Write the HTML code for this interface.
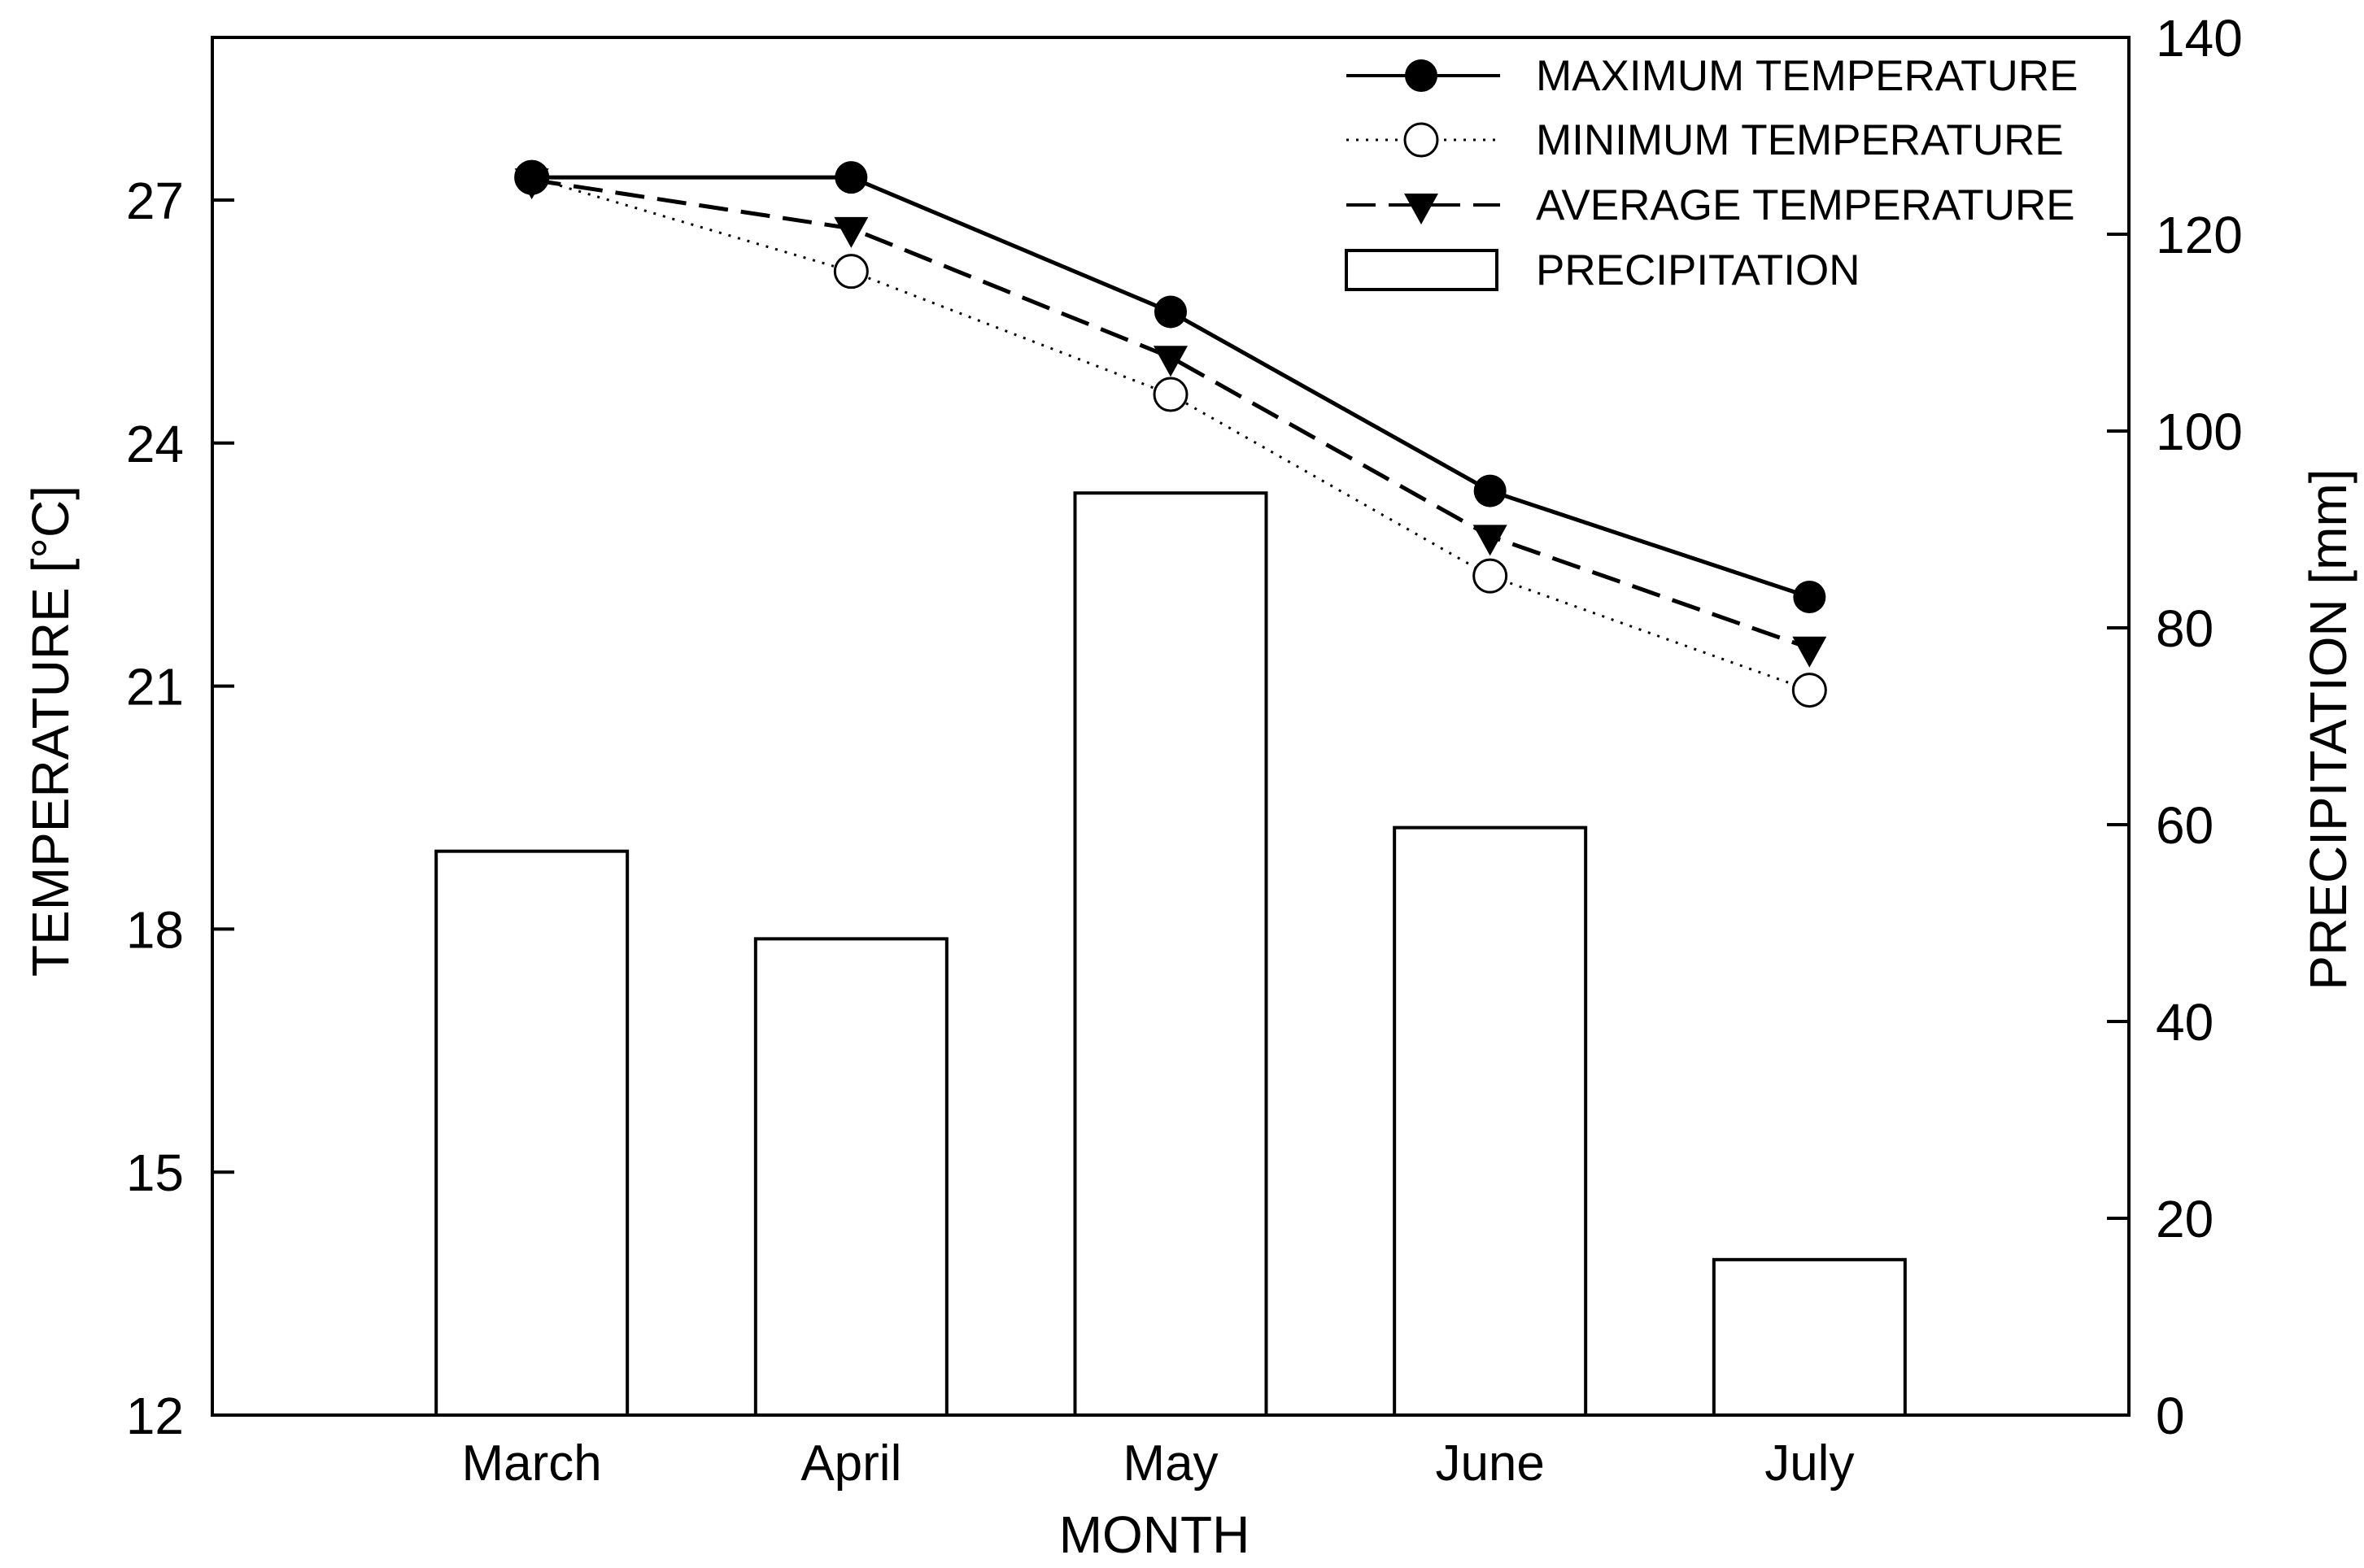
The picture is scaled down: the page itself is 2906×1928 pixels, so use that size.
<!DOCTYPE html>
<html><head><meta charset="utf-8"><style>
html,body{margin:0;padding:0;background:#fff}
svg{display:block;font-family:"Liberation Sans",Arial,sans-serif}
</style></head><body>
<svg id="chart" width="2906" height="1928" viewBox="0 0 2906 1928" xmlns="http://www.w3.org/2000/svg">
<g id="bars"></g>
<g id="lines"></g>
<rect x="261" y="46" width="2356" height="1694" fill="none" stroke="#000" stroke-width="4"/>
<g id="axes"></g>
<text x="62" y="899" transform="rotate(-90 62 899)" text-anchor="middle" dominant-baseline="central" font-size="64">TEMPERATURE [°C]</text>
<text x="2862" y="897" transform="rotate(-90 2862 897)" text-anchor="middle" dominant-baseline="central" font-size="64">PRECIPITATION [mm]</text>
<text x="1419" y="1909" text-anchor="middle" font-size="64">MONTH</text>
<g>
 <g>
  <line x1="1655" y1="93" x2="1844" y2="93" stroke="#000" stroke-width="4"/>
  <circle cx="1747" cy="93" r="20" fill="#000"/>
  <text x="1888" y="111" font-size="53">MAXIMUM TEMPERATURE</text>
 </g>
 <g>
  <line x1="1655" y1="172" x2="1844" y2="172" stroke="#000" stroke-width="3" stroke-dasharray="3 9"/>
  <circle cx="1747" cy="172" r="20" fill="#fff" stroke="#000" stroke-width="3"/>
  <text x="1888" y="190" font-size="53">MINIMUM TEMPERATURE</text>
 </g>
 <g>
  <line x1="1655" y1="252" x2="1844" y2="252" stroke="#000" stroke-width="4" stroke-dasharray="36 16"/>
  <path d="M1726 238 L1768 238 L1747 276 Z" fill="#000"/>
  <text x="1888" y="270" font-size="53">AVERAGE TEMPERATURE</text>
 </g>
 <g>
  <rect x="1655" y="308" width="185" height="48" fill="#fff" stroke="#000" stroke-width="4"/>
  <text x="1888" y="350" font-size="53">PRECIPITATION</text>
 </g>
</g>
</svg>
<script>
const months = ["March","April","May","June","July"];
const precip = [57.3, 48.4, 93.7, 59.7, 15.8];
const tMax = [27.28, 27.28, 25.62, 23.41, 22.10];
const tMin = [27.28, 26.12, 24.60, 22.36, 20.95];
const tAvg = [27.25, 26.65, 25.06, 22.85, 21.47];
const leftTicks = [12, 15, 18, 21, 24, 27];
const rightTicks = [0, 20, 40, 60, 80, 100, 120, 140];

const NS = "http://www.w3.org/2000/svg";
const L = 261, R = 2617, T = 46, B = 1740;
const xs = i => L + (i + 1) * (R - L) / 6;
const yT = v => B - (v - 12) * (B - 246) / 15;
const yP = v => B - v * (B - T) / 140;
function mk(tag, attrs, parent) {
  const e = document.createElementNS(NS, tag);
  for (const k in attrs) e.setAttribute(k, attrs[k]);
  parent.appendChild(e);
  return e;
}
const bars = document.getElementById('bars');
const lines = document.getElementById('lines');
const axes = document.getElementById('axes');
const bw = 235;
precip.forEach((v, i) => {
  const r = mk('rect', {x: xs(i) - bw/2, y: yP(v), width: bw, height: B - yP(v), fill: '#fff', stroke: '#000', 'stroke-width': 4}, bars);
  
  
});
function series(vals, name, dash, width) {
  const p = mk('polyline', {points: vals.map((v, i) => xs(i) + ',' + yT(v)).join(' '), fill: 'none', stroke: '#000', 'stroke-width': width, 'stroke-dasharray': dash}, lines);
  
  
}
series(tMin, 'min-temp', '3 9', 3);
series(tAvg, 'avg-temp', '36 16', 5);
series(tMax, 'max-temp', 'none', 5);
tMin.forEach((v, i) => {
  const c = mk('circle', {cx: xs(i), cy: yT(v), r: 20, fill: '#fff', stroke: '#000', 'stroke-width': 3}, lines);
  
  
});
tAvg.forEach((v, i) => {
  const x = xs(i), y = yT(v);
  const t = mk('path', {d: `M${x-21} ${y-14} L${x+21} ${y-14} L${x} ${y+24} Z`, fill: '#000'}, lines);
  
  
});
tMax.forEach((v, i) => {
  const c = mk('circle', {cx: xs(i), cy: yT(v), r: 20, fill: '#000'}, lines);
  
  
});
leftTicks.forEach(v => {
  const y = yT(v);
  const l = mk('line', {x1: L, y1: y, x2: L + 27, y2: y, stroke: '#000', 'stroke-width': 4}, axes);
  
  
  const t = mk('text', {x: 226, y: y + 23, 'text-anchor': 'end', 'font-size': 64}, axes);
  t.textContent = v;
  
  
});
rightTicks.forEach(v => {
  const y = yP(v);
  const l = mk('line', {x1: R - 27, y1: y, x2: R, y2: y, stroke: '#000', 'stroke-width': 4}, axes);
  
  
  const t = mk('text', {x: 2650, y: y + 23, 'font-size': 64}, axes);
  t.textContent = v;
  
  
});
months.forEach((m, i) => {
  const t = mk('text', {x: xs(i), y: 1820, 'text-anchor': 'middle', 'font-size': 62}, axes);
  t.textContent = m;
  
  
});
</script>
</body></html>
